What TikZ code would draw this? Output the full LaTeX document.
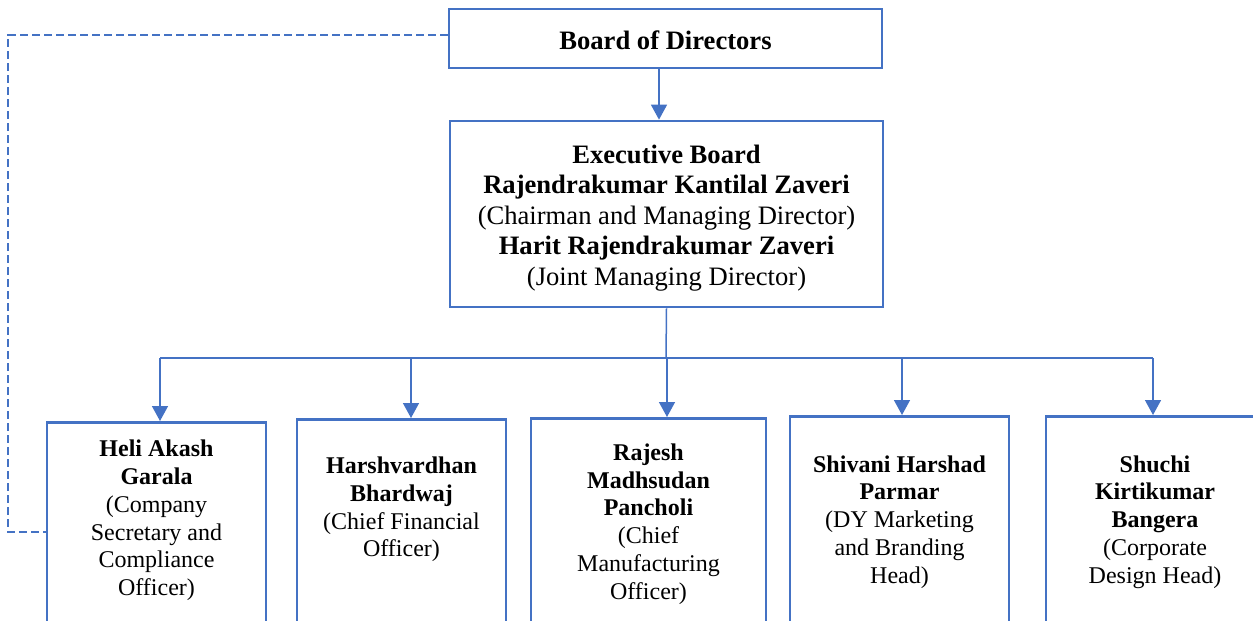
\documentclass[tikz,border=0pt]{standalone}
\usepackage{fontspec}
\setmainfont{Liberation Serif}
\usetikzlibrary{arrows.meta}
\definecolor{orgblue}{HTML}{4472C4}

\begin{document}
\begin{tikzpicture}[x=.5pt,y=-.5pt,>={Triangle[length=7.5pt,width=8pt]},
  topbox/.style={draw=orgblue,line width=1.35pt,minimum width=216.5pt,align=center,font=\fontsize{13.3}{15.25}\selectfont},
  memberbox/.style={draw=orgblue,line width=1.35pt,anchor=north,minimum height=130pt},
  membertext/.style={align=center,font=\fontsize{12}{13.9}\selectfont},
  link/.style={orgblue,line width=.75pt}]
\useasboundingbox (0,0) rectangle (1253,621);\clip (0,0) rectangle (1253,621);
\node[topbox,minimum height=29.5pt] (bod) at (665.5,38.5) {\rule{0pt}{11.5pt}\textbf{Board of Directors}};
\node[topbox,minimum height=93pt] (exec) at (666.5,214) {\rule{0pt}{14pt}\textbf{Executive Board}\\ \textbf{Rajendrakumar Kantilal Zaveri}\\ (Chairman and Managing Director)\\ \textbf{Harit Rajendrakumar Zaveri}\\ (Joint Managing Director)\rule[-4pt]{0pt}{0pt}};
\node[memberbox,minimum width=109.5pt] (heli) at (156.5,421) {};
\node[membertext] at (156.5,520.5) {\textbf{Heli Akash}\\ \textbf{Garala}\\ (Company\\ Secretary and\\ Compliance\\ Officer)};
\node[memberbox,minimum width=104.5pt] (harsh) at (401.5,418) {};
\node[membertext] at (401.5,509.5) {\textbf{Harshvardhan}\\ \textbf{Bhardwaj}\\ (Chief Financial\\ Officer)};
\node[memberbox,minimum width=117.5pt] (rajesh) at (648.5,417) {};
\node[membertext] at (648.5,524) {\textbf{Rajesh}\\ \textbf{Madhsudan}\\ \textbf{Pancholi}\\ (Chief\\ Manufacturing\\ Officer)};
\node[memberbox,minimum width=109.5pt] (shivani) at (899.5,415) {};
\node[membertext] at (899.5,522) {\textbf{Shivani Harshad}\\ \textbf{Parmar}\\ (DY Marketing\\ and Branding\\ Head)};
\node[memberbox,minimum width=110pt] (shuchi) at (1156,415) {};
\node[membertext] at (1155,522) {\textbf{Shuchi}\\ \textbf{Kirtikumar}\\ \textbf{Bangera}\\ (Corporate\\ Design Head)};
\coordinate (bodfoot) at (659,68);
\draw[link,->] (bodfoot |- bod.south) -- (bodfoot |- exec.north);
\coordinate (bus) at (666,358);
\coordinate (d1) at (160,358);\coordinate (d2) at (411,358);\coordinate (d3) at (667,358);
\coordinate (d4) at (902,358);\coordinate (d5) at (1153,358);
\draw[link] (exec.south) -- (bus);\draw[link] (d1) -- (d5);
\draw[link,->] (d1) -- (d1 |- heli.north);\draw[link,->] (d2) -- (d2 |- harsh.north);
\draw[link,->] (d3) -- (d3 |- rajesh.north);\draw[link,->] (d4) -- (d4 |- shivani.north);
\draw[link,->] (d5) -- (d5 |- shuchi.north);
\coordinate (dtop) at (8,35);\coordinate (dbot) at (8,532);
\draw[link,line width=.6pt,dash pattern=on 4pt off 2pt] (bod.west |- dtop) -- (dtop) -- (dbot) -- (dbot -| heli.west);
\end{tikzpicture}
\end{document}
